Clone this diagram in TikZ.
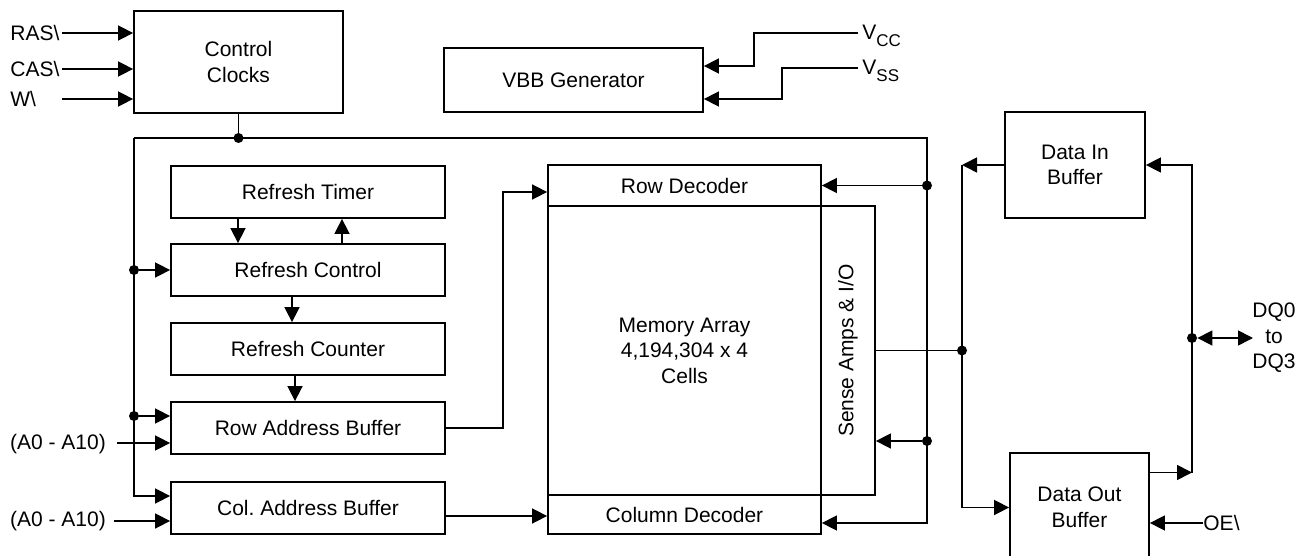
\documentclass[tikz,border=0pt]{standalone}
\usepackage{fontspec}
\setmainfont{Liberation Sans}
\usetikzlibrary{arrows.meta,calc}
\begin{document}
\frenchspacing
\begin{tikzpicture}[x=0.5pt,y=-0.5pt,
  box/.style={draw,line width=0.9pt,inner sep=0pt,align=center,font=\fontsize{10.5}{12.8}\selectfont},
  wire/.style={line width=0.8pt},
  arr/.style={wire,-{Triangle[length=7.5pt,width=7.5pt]}},
  dot/.style={circle,fill,inner sep=0pt,minimum size=5pt},
  lbl/.style={font=\fontsize{10.5}{12.8}\selectfont,inner sep=0pt}]
\clip (0,0) rectangle (1297,556);

% boxes
\node[box,minimum width=104.5pt,minimum height=51pt] (clk) at (238.5,62) {Control\\Clocks};
\node[box,minimum width=129.5pt,minimum height=32pt] (vbb) at (573.5,80) {VBB Generator};
\node[box,minimum width=137pt,minimum height=26pt] (timer) at (308,192) {Refresh Timer};
\node[box,minimum width=137pt,minimum height=26pt] (ctrl) at (308,270) {Refresh Control};
\node[box,minimum width=137pt,minimum height=26pt] (cnt) at (308,349) {Refresh Counter};
\node[box,minimum width=137pt,minimum height=26pt] (rab) at (308,428) {Row Address Buffer};
\node[box,minimum width=137pt,minimum height=26pt] (cab) at (308,508) {Col.\ Address Buffer};
\node[box,minimum width=136.5pt,minimum height=20.5pt] (rowdec) at (684.5,185.5) {Row Decoder};
\node[box,minimum width=136.5pt,minimum height=144.5pt] (mem) at (684.5,350.5) {Memory Array\\4,194,304 x 4\\Cells};
\node[box,minimum width=136.5pt,minimum height=19.5pt] (coldec) at (684.5,514.5) {Column Decoder};
\node[box,minimum width=27pt,minimum height=144.5pt] (sense) at (848,350.5) {};
\node[lbl,rotate=90] (sensetxt) at (sense.center) {Sense Amps \& I/O};
\node[box,minimum width=70pt,minimum height=53pt] (din) at (1075,165) {Data In\\Buffer};
\node[box,minimum width=69.5pt,minimum height=54.5pt] (dout) at (1079.5,507.5) {Data Out\\Buffer};

% control inputs
\node[lbl,anchor=west] (ras) at (10,33) {RAS\textbackslash};
\node[lbl,anchor=west] (cas) at (10,69) {CAS\textbackslash};
\node[lbl,anchor=west] (w) at (10,99) {W\textbackslash};
\coordinate (rasS) at (62,33);
\coordinate (casS) at (62,69);
\coordinate (wS) at (62,99);
\draw[arr] (rasS) -- (rasS -| clk.west);
\draw[arr] (casS) -- (casS -| clk.west);
\draw[arr] (wS) -- (wS -| clk.west);

% supply
\node[lbl,anchor=base west] (vcc) at (862,40) {V\raisebox{-3.5pt}{\fontsize{8.5}{9}\selectfont CC}};
\node[lbl,anchor=base west] (vss) at (862,75) {V\raisebox{-3.5pt}{\fontsize{8.5}{9}\selectfont SS}};
\coordinate (vccS) at (858,33);
\coordinate (vssS) at (858,68);
\draw[arr] (vccS) -| (754,66) -- ($(vbb.east)+(0,-14)$);
\draw[arr] (vssS) -| (782,99) -- ($(vbb.east)+(0,19)$);

% clock bus
\coordinate (bTL) at (134,138);
\coordinate (bTR) at (927,138);
\draw[wire] (clk.south) -- (clk.south |- bTL);
\draw[arr] (bTL) |- ($(cab.west)+(0,-12)$);
\draw[arr] (bTL) -- (bTR) |- ($(coldec.east)+(0,8.5)$);
\node[dot] (dclk) at (clk.south |- bTL) {};

\node[dot] (d1) at (bTL |- ctrl.west) {};
\draw[arr] (d1) -- (ctrl.west);
\coordinate (rabin) at ($(rab.west)+(0,-12)$);
\node[dot] (d2) at (bTL |- rabin) {};
\draw[arr] (d2) -- (rabin);

% address inputs
\node[lbl] (a1) at (58,444) {(A0 - A10)};
\node[lbl] (a2) at (58,521) {(A0 - A10)};
\coordinate (a1S) at (117,443);
\coordinate (a2S) at (114,521);
\draw[arr] (a1S) -- (a1S -| rab.west);
\draw[arr] (a2S) -- (a2S -| cab.west);

% refresh arrows
\coordinate (x238) at (238,0);
\coordinate (x342) at (342,0);
\coordinate (x292) at (292,0);
\coordinate (x295) at (295,0);
\draw[arr] (x238 |- timer.south) -- (x238 |- ctrl.north);
\draw[arr] (x342 |- ctrl.north) -- (x342 |- timer.south);
\draw[arr] (x292 |- ctrl.south) -- (x292 |- cnt.north);
\draw[arr] (x295 |- cnt.south) -- (x295 |- rab.north);

% address to decoders
\draw[arr] (rab.east) -- ++(57,0) |- ($(rowdec.west)+(0,6.5)$);
\coordinate (cabout) at ($(cab.east)+(0,8)$);
\draw[arr] (cabout) -- (cabout -| coldec.west);

% right bus taps
\node[dot] (r1) at (bTR |- rowdec.east) {};
\draw[arr] (r1) -- (rowdec.east);
\coordinate (sensein) at ($(sense.east)+(0,90.5)$);
\node[dot] (r2) at (bTR |- sensein) {};
\draw[arr] (r2) -- (sensein);

% data path
\coordinate (x962) at (962,0);
\coordinate (x1192) at (1192,0);
\node[dot] (j1) at (x962 |- sense.east) {};
\draw[wire] (sense.east) -- (j1);
\draw[arr] (din.west) -- (x962 |- din.west);
\draw[arr] (x962 |- din.west) |- (dout.west);
\coordinate (doutout) at ($(dout.east)+(0,-35)$);
\draw[arr] (doutout) -- (doutout -| x1192);
\draw[arr] (doutout -| x1192) |- (din.east);

\node[lbl,align=center] (dql) at (1274,338) {DQ0\\to\\DQ3};
\node[dot] (dqd) at (x1192 |- dql) {};
\coordinate (dqE) at (1253,338);
\draw[wire,{Triangle[length=7.5pt,width=7.5pt]}-{Triangle[length=7.5pt,width=7.5pt]}] (dqd) -- (dqE);

\node[lbl,anchor=west] (oe) at (1203,523) {OE\textbackslash};
\draw[arr] (oe.west) -- (oe.west -| dout.east);
\end{tikzpicture}
\end{document}
